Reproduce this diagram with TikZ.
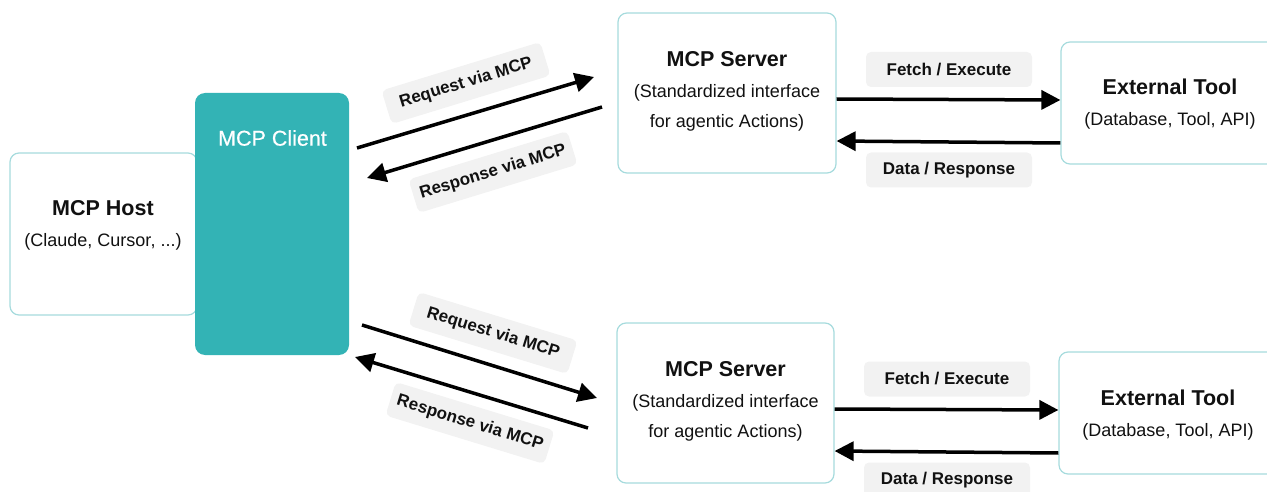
\documentclass[tikz,border=0pt]{standalone}
\usepackage{fontspec}
\setmainfont{Liberation Sans}
\usetikzlibrary{arrows.meta}
\definecolor{teal1}{HTML}{33B3B5}
\definecolor{edge1}{HTML}{A6DBDD}
\definecolor{lab1}{HTML}{F2F2F2}
\definecolor{ink}{HTML}{111111}
\tikzset{
  x=1pt, y=-1pt,
  card/.style={draw=edge1, line width=1.2pt, fill=white, rounded corners=9pt, inner sep=0pt},
  clientbox/.style={fill=teal1, rounded corners=10pt, inner sep=0pt, minimum width=154pt, minimum height=262pt},
  txt/.style={align=center, text=ink, inner sep=0pt, font=\fontsize{18}{30.5}\selectfont},
  tag/.style={fill=lab1, rounded corners=5pt, text=ink, inner sep=0pt, minimum width=166pt, minimum height=35pt, font=\fontsize{17}{20}\selectfont\bfseries},
  arr/.style={line width=3.5pt, draw=black, -{Triangle[length=19pt,width=19pt]}},
}
\begin{document}
\begin{tikzpicture}
\useasboundingbox (0,0) rectangle (1267,492);
% host and client
\node[card, minimum width=187pt, minimum height=162pt] (host) at (103.5,234) {};
\node[txt] (hostt) at (103,225.5) {{\fontsize{21.5}{32}\selectfont\bfseries MCP Host}\\[1pt](Claude, Cursor, ...)};
\node[clientbox] (client) at (272,224) {};
\node[text=white, inner sep=0pt, font=\fontsize{21.5}{25}\selectfont\addfontfeatures{FakeBold=0.6}] (clientt) at (272.5,138) {MCP Client};
% servers
\node[card, minimum width=218pt, minimum height=160pt] (srv1) at (727,93) {};
\node[txt] (srv1t) at (727,91.5) {{\fontsize{21.5}{30.5}\selectfont\bfseries MCP Server}\\(Standardized interface\\for agentic Actions)};
\node[card, minimum width=217pt, minimum height=160pt] (srv2) at (725.5,403) {};
\node[txt] (srv2t) at (725.5,401.5) {{\fontsize{21.5}{30.5}\selectfont\bfseries MCP Server}\\(Standardized interface\\for agentic Actions)};
% tools
\node[card, minimum width=218pt, minimum height=122pt] (tool1) at (1170,103) {};
\node[txt] (tool1t) at (1170,104) {{\fontsize{21.5}{31}\selectfont\bfseries External Tool}\\(Database, Tool, API)};
\node[card, minimum width=218pt, minimum height=122pt] (tool2) at (1168,413) {};
\node[txt] (tool2t) at (1168,415) {{\fontsize{21.5}{31}\selectfont\bfseries External Tool}\\(Database, Tool, API)};
% horizontal tags
\node[tag] (fe1) at (949,69.5) {Fetch / Execute};
\node[tag] (dr1) at (949,170) {Data / Response};
\node[tag] (fe2) at (947,379) {Fetch / Execute};
\node[tag] (dr2) at (947,480) {Data / Response};
% horizontal arrows
\draw[arr] ([yshift=-6pt]srv1.east) -- ([yshift=3pt]tool1.west);
\draw[arr] ([yshift=-40pt]tool1.west) -- ([yshift=-48pt]srv1.east);
\draw[arr] ([yshift=-6pt]srv2.east) -- ([yshift=3pt]tool2.west);
\draw[arr] ([yshift=-40pt]tool2.west) -- ([yshift=-48pt]srv2.east);
% diagonal tags
\node[tag, rotate=17] (rq1) at (466,83) {Request via MCP};
\node[tag, rotate=17] (rs1) at (493,172) {Response via MCP};
\node[tag, rotate=-17] (rq2) at (493,333) {Request via MCP};
\node[tag, rotate=-17] (rs2) at (470,423) {Response via MCP};
% diagonal arrows
\coordinate (a1s) at (357,148);
\coordinate (a1e) at (594,77);
\coordinate (b1s) at (602,107);
\coordinate (b1e) at (367,178);
\coordinate (a2s) at (362,325);
\coordinate (a2e) at (597,398);
\coordinate (b2s) at (588,428);
\coordinate (b2e) at (355,357);
\draw[arr] (a1s) -- (a1e);
\draw[arr] (b1s) -- (b1e);
\draw[arr] (a2s) -- (a2e);
\draw[arr] (b2s) -- (b2e);
\end{tikzpicture}
\end{document}
